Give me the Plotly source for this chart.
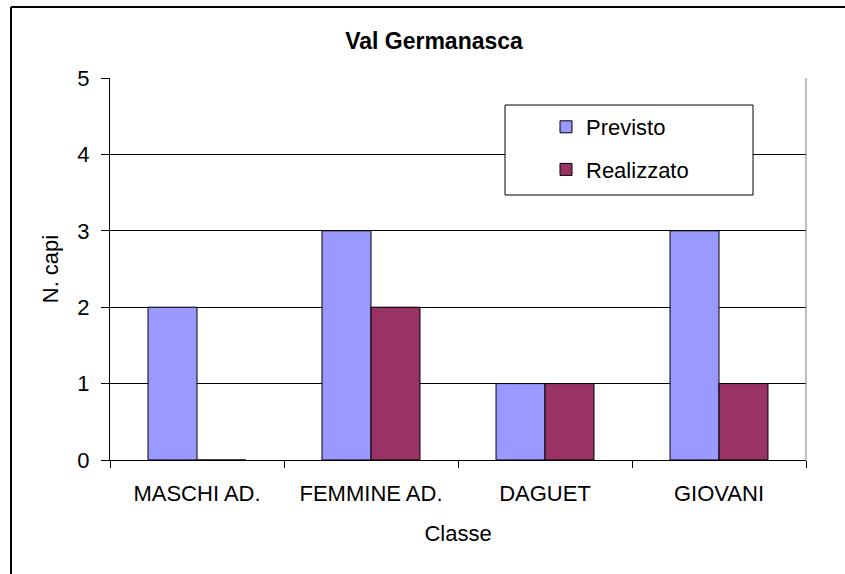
import plotly.graph_objects as go

categories = ["MASCHI AD.", "FEMMINE AD.", "DAGUET", "GIOVANI"]
previsto = [2, 3, 1, 3]
realizzato = [0, 2, 1, 1]
y_ticks = [0, 1, 2, 3, 4, 5]

FONT = "Liberation Sans, Arial, sans-serif"
W, H = 845, 574
L, R, T, B = 110, 39, 78, 114
PW, PH = W - L - R, H - T - B

def px_x(x):
    return (x - L) / PW

def px_y(y):
    return (H - B - y) / PH

fig = go.Figure()
fig.add_trace(go.Bar(name="Previsto", x=categories, y=previsto,
                     marker=dict(color="#9999FF", line=dict(color="black", width=1)),
                     legendgroup="a"))
fig.add_trace(go.Bar(name="Realizzato", x=categories, y=realizzato,
                     marker=dict(color="#993366", line=dict(color="black", width=1)),
                     legendgroup="b"))

fig.update_layout(
    width=W, height=H,
    margin=dict(l=L, r=R, t=T, b=B, pad=0),
    paper_bgcolor="white", plot_bgcolor="white",
    font=dict(family=FONT, size=22, color="black"),
    barmode="group", bargap=0.437, bargroupgap=0,
    title=dict(text="Val Germanasca", x=434 / W, xanchor="center",
               y=1 - 41 / H, yanchor="middle",
               font=dict(family=FONT, size=23, weight="bold", color="black")),
    showlegend=True,
    legend=dict(x=px_x(546), xanchor="left", y=px_y(106), yanchor="top",
                bgcolor="rgba(0,0,0,0)", borderwidth=0,
                font=dict(family=FONT, size=22, color="black"),
                traceorder="grouped", tracegroupgap=11),
    xaxis=dict(showline=True, linecolor="black", linewidth=1,
               ticks="outside", tickson="boundaries", ticklen=7, tickcolor="black",
               showgrid=False, ticklabelstandoff=14,
               title=dict(text="Classe", standoff=20, font=dict(size=22))),
    yaxis=dict(range=[0, 5], tickvals=y_ticks, showline=True, linecolor="black", linewidth=1,
               ticks="outside", ticklen=8, tickcolor="black",
               showgrid=True, gridcolor="black", gridwidth=1,
               zeroline=False, ticklabelstandoff=7,
               title=dict(text="N. capi", standoff=12, font=dict(size=22))),
    shapes=[
        # outer chart frame: left edge
        dict(type="line", xref="paper", yref="paper",
             x0=px_x(11), x1=px_x(11), y0=px_y(7), y1=px_y(600),
             line=dict(color="black", width=2), layer="below"),
        # outer chart frame: top edge
        dict(type="line", xref="paper", yref="paper",
             x0=px_x(11), x1=px_x(860), y0=px_y(7), y1=px_y(7),
             line=dict(color="black", width=2), layer="below"),
        # plot area right border
        dict(type="line", xref="paper", yref="paper",
             x0=1, x1=1, y0=0, y1=1, line=dict(color="#808080", width=1)),
        # legend box
        dict(type="rect", xref="paper", yref="paper",
             x0=px_x(505), x1=px_x(753), y0=px_y(195), y1=px_y(105),
             line=dict(color="black", width=1), fillcolor="white", layer="above"),
    ],
)

fig.write_html("out.html", config={"displayModeBar": False},
               post_script=("document.body.style.margin='0';"
                            "document.body.style.overflow='hidden';"
                            "document.documentElement.style.overflow='hidden';"))
